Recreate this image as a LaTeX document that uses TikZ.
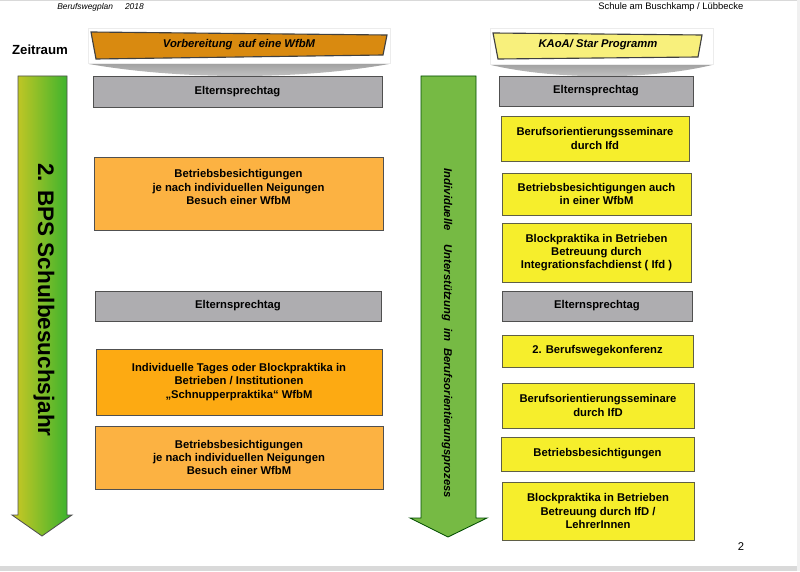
\documentclass[tikz,border=0pt]{standalone}
\usepackage{fontspec}
\setmainfont{Liberation Sans}
\usepackage{xcolor}
\usepackage{tikz}

\definecolor{bannerorange}{RGB}{217,138,16}
\definecolor{banneryellow}{RGB}{248,240,124}
\definecolor{boxgrey}{RGB}{174,173,176}
\definecolor{boxorange}{RGB}{252,178,66}
\definecolor{boxorangedark}{RGB}{253,170,18}
\definecolor{boxyellow}{RGB}{246,238,44}
\definecolor{boxedge}{RGB}{95,95,70}
\definecolor{edgegrey}{RGB}{80,80,80}
\definecolor{arrowgreen}{RGB}{118,186,68}
\definecolor{arrowlime}{RGB}{206,200,36}
\definecolor{arrowgreendark}{RGB}{50,178,46}

\begin{document}
\begin{tikzpicture}[x=0.025cm, y=-0.025cm,
	boxtext/.style={inner sep=0pt, align=center, font=\bfseries\fontsize{8}{9.5}\selectfont},
	box/.style={boxtext, draw=edgegrey, line width=0.6pt},
	greybox/.style={box, fill=boxgrey},
	orangebox/.style={box, fill=boxorange},
	yellowbox/.style={box, fill=boxyellow, draw=boxedge},
	bannertext/.style={font=\bfseries\itshape\fontsize{8}{9.5}\selectfont}]
	
	% Seite
	\fill[white] (0,0) rectangle (800,571);
	\fill[gray!30] (0,0) rectangle (800,1.5);
	\fill[gray!30] (0,566) rectangle (800,571);
	\fill[gray!12] (797,0) rectangle (800,571);
	\useasboundingbox (0,0) rectangle (800,571);
	
	\node[inner sep=0pt, anchor=west, font=\itshape\fontsize{6}{7}\selectfont] (kopflinks) at (57,7) {Berufswegplan\hspace{8.5pt}2018};
	\node[inner sep=0pt, anchor=west, font=\fontsize{6.7}{8}\selectfont] (kopfrechts) at (598,7) {Schule am Buschkamp / Lübbecke};
	\node[font=\bfseries\fontsize{9.4}{11}\selectfont] (zeitraum) at (40,50) {Zeitraum};
	
	% Banner links
	\shade[top color=gray!85, bottom color=gray!40] (89,58) -- (389,58) -- (389,64) .. controls (300,80) and (180,80) .. (89,64) -- cycle;
	\filldraw[fill=white, draw=gray!15] (88,28) rectangle (390,63);
	\filldraw[fill=bannerorange, draw=black!75, line width=0.8pt] (91,32) -- (387,35) -- (383,55) -- (96,59) -- cycle;
	\node[bannertext] (wfbm) at (239,45) {Vorbereitung\ \ auf eine WfbM};
	
	% Banner rechts
	\shade[top color=gray!85, bottom color=gray!40] (491,59) -- (712,59) -- (712,65) .. controls (650,80) and (555,80) .. (491,65) -- cycle;
	\filldraw[fill=white, draw=gray!15] (490,28) rectangle (713,64);
	\filldraw[fill=banneryellow, draw=black!75, line width=0.8pt] (493,33) -- (702,35) -- (698,57) -- (498,59) -- cycle;
	\node[bannertext] (kaoa) at (598,45) {KAoA/ Star Programm};
	
	% Pfeile
	\path[left color=arrowlime, right color=arrowgreendark, draw=edgegrey, line width=0.6pt] (18,76) -- (67,76) -- (67,515) -- (72,515) -- (42,536) -- (12,515) -- (18,515) -- cycle;
	\node[rotate=-90, font=\bfseries\fontsize{16}{18}\selectfont] (bps) at (44,300) {2. BPS Schulbesuchsjahr};
	\filldraw[fill=arrowgreen, draw=green!30!black, line width=0.6pt] (421,76) -- (476,76) -- (476,518) -- (487,518) -- (448,537) -- (410,518) -- (421,518) -- cycle;
	\node[rotate=-90, font=\bfseries\itshape\fontsize{8}{9.5}\selectfont] (prozess) at (447,333.5) {Individuelle\hspace{10pt}Unterstützung\hspace{5pt}im\hspace{5pt}Berufsorientierungsprozess};
	
	% linke Spalte
	\node[greybox, minimum width=7.225cm, minimum height=0.775cm] (eltern1) at (237.5,91.5) {Elternsprechtag};
	\node[orangebox, minimum width=7.225cm, minimum height=1.825cm] (besicht1) at (238.5,193.5) {};
	\node[boxtext] (besicht1text) at (238.5,187) {Betriebsbesichtigungen\\je nach individuellen Neigungen\\Besuch einer WfbM};
	\node[greybox, minimum width=7.15cm, minimum height=0.75cm] (eltern3) at (238,306) {Elternsprechtag};
	\node[orangebox, fill=boxorangedark, minimum width=7.15cm, minimum height=1.65cm] (praktika) at (239,382) {Individuelle Tages oder Blockpraktika in\\Betrieben / Institutionen\\„Schnupperpraktika“ WfbM};
	\node[orangebox, minimum width=7.2cm, minimum height=1.575cm] (besicht2) at (239,457.5) {Betriebsbesichtigungen\\je nach individuellen Neigungen\\Besuch einer WfbM};
	
	% rechte Spalte
	\node[greybox, minimum width=4.85cm, minimum height=0.75cm] (eltern2) at (596,91) {Elternsprechtag};
	\node[yellowbox, minimum width=4.7cm, minimum height=1.125cm] (seminar1) at (595,138.5) {Berufsorientierungsseminare\\durch Ifd};
	\node[yellowbox, minimum width=4.725cm, minimum height=1.05cm] (besicht3) at (596.5,194) {Betriebsbesichtigungen auch\\in einer WfbM};
	\node[yellowbox, minimum width=4.725cm, minimum height=1.475cm] (block1) at (596.5,252.5) {Blockpraktika in Betrieben\\Betreuung durch\\Integrationsfachdienst ( Ifd )};
	\node[greybox, minimum width=4.75cm, minimum height=0.75cm] (eltern4) at (597,306) {Elternsprechtag};
	\node[yellowbox, minimum width=4.775cm, minimum height=0.8cm] (konferenz) at (597.5,351) {2. Berufswegekonferenz};
	\node[yellowbox, minimum width=4.8cm, minimum height=1.125cm] (seminar2) at (598,405.5) {Berufsorientierungsseminare\\durch IfD};
	\node[yellowbox, minimum width=4.825cm, minimum height=0.85cm] (besicht4) at (597.5,454) {Betriebsbesichtigungen};
	\node[yellowbox, minimum width=4.8cm, minimum height=1.45cm] (block2) at (598,511) {Blockpraktika in Betrieben\\Betreuung durch IfD /\\LehrerInnen};
	
	\node[font=\fontsize{8}{9}\selectfont] (seite) at (741,547) {2};
\end{tikzpicture}
\end{document}
